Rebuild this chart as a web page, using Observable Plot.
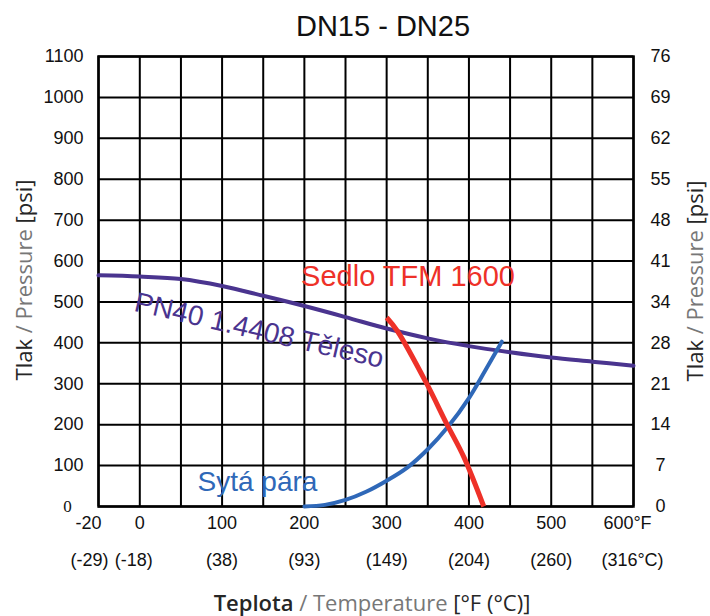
<!DOCTYPE html>
<html>
<head>
<meta charset="utf-8">
<script src="https://cdn.jsdelivr.net/npm/d3@7"></script>
<script src="https://cdn.jsdelivr.net/npm/@observablehq/plot@0.6"></script>
<style>
  html, body { margin: 0; padding: 0; background: #fff; }
  #chart svg { display: block; }
</style>
</head>
<body>
<div id="chart"></div>
<script>
// ---- data ----
const title = "DN15 - DN25";
const gridTemps = [-20, 0, 50, 100, 150, 200, 250, 300, 350, 400, 450, 500, 550, 600];
const tempTicks = [-20, 0, 100, 200, 300, 400, 500, 600];
const tempLabelsF = ["-20", "0", "100", "200", "300", "400", "500", "600°F"];
const tempLabelsC = ["(-29)", "(-18)", "(38)", "(93)", "(149)", "(204)", "(260)", "(316°C)"];
const psiTicks = [0, 100, 200, 300, 400, 500, 600, 700, 800, 900, 1000, 1100];
const barLabels = ["0", "7", "14", "21", "28", "34", "41", "48", "55", "62", "69", "76"];

// PN40 1.4408 body
const bodyTemp = [-20, 0, 50, 100, 150, 200, 250, 300, 350, 400, 450, 500, 550, 600];
const bodyPsi  = [565, 562, 556, 539, 515, 490, 463, 435, 411, 392, 377, 364, 354, 344];

// Seat TFM 1600
const seatTemp = [300, 313, 349, 373, 394, 418];
const seatPsi  = [462, 429, 299, 202, 120, 0];

// Saturated steam
const steamTemp = [200, 225, 250, 275, 300, 325, 350, 375, 400, 420, 440];
const steamPsi  = [0, 4, 16, 36, 63, 95, 140, 196, 265, 333, 403];

// curve labels (data coordinates)
const curveLabels = [
  {text: "Sedlo TFM 1600", t: 326, p: 561, series: "seat"},
  {text: "Sytá pára", t: 143, p: 59, series: "steam"},
  {text: "PN40 1.4408 Těleso", t: 145, p: 430, series: "body"}
];

const colors = {body: "#4a348f", seat: "#ee3128", steam: "#2f68b8"};

const body = bodyTemp.map((t, i) => ({t, p: bodyPsi[i]}));
const seat = seatTemp.map((t, i) => ({t, p: seatPsi[i]}));
const steam = steamTemp.map((t, i) => ({t, p: steamPsi[i]}));

const tickFont = "'Liberation Sans', Arial, sans-serif";
const fRows = tempTicks.map((t, i) => ({t, s: tempLabelsF[i]}));
const cRows = tempTicks.map((t, i) => ({t, s: tempLabelsC[i]}));
const tick = {fontSize: 18, fill: "#111", lineAnchor: "middle"};

const chart = Plot.plot({
  width: 710,
  height: 616,
  marginLeft: 98,
  marginRight: 77,
  marginTop: 56,
  marginBottom: 110,
  style: {fontFamily: tickFont, background: "#fff"},
  x: {type: "linear", domain: [-20, 0, 600], range: [98, 139.3, 633], axis: null},
  y: {domain: [0, 1100], axis: null},
  marks: [
    Plot.ruleX(gridTemps, {x: d => d, stroke: "#000", strokeWidth: 2}),
    Plot.ruleY(psiTicks, {y: d => d, stroke: "#000", strokeWidth: 2}),
    Plot.frame({stroke: "#000", strokeWidth: 2.5}),
    Plot.line(body, {x: "t", y: "p", stroke: colors.body, strokeWidth: 4, curve: "catmull-rom"}),
    Plot.line(steam, {x: "t", y: "p", stroke: colors.steam, strokeWidth: 4, curve: "catmull-rom"}),
    Plot.line(seat, {x: "t", y: "p", stroke: colors.seat, strokeWidth: 5, curve: "catmull-rom", strokeLinecap: "butt"}),
    // curve labels
    Plot.text(curveLabels.filter(d => d.series === "seat"), {x: "t", y: "p", text: "text", fill: colors.seat, fontSize: 29}),
    Plot.text(curveLabels.filter(d => d.series === "steam"), {x: "t", y: "p", text: "text", fill: colors.steam, fontSize: 28}),
    Plot.text(curveLabels.filter(d => d.series === "body"), {x: "t", y: "p", text: "text", fill: colors.body, fontSize: 28, rotate: 13}),
    // left tick labels
    Plot.text(psiTicks.filter(d => d > 0), {y: d => d, text: d => String(d), frameAnchor: "left", textAnchor: "end", dx: -15, ...tick}),
    Plot.text(psiTicks.filter(d => d === 0), {y: d => d, text: d => String(d), frameAnchor: "left", textAnchor: "middle", dx: -31, fontSize: 17, fontFamily: "'Liberation Serif', serif", fill: "#111", lineAnchor: "middle"}),
    // right tick labels (bar)
    Plot.text(psiTicks, {y: d => d, text: (d, i) => barLabels[i], frameAnchor: "right", textAnchor: "middle", dx: 27, ...tick}),
    // bottom °F labels
    Plot.text(fRows.filter(d => d.t > -20 && d.t < 600), {x: "t", text: "s", frameAnchor: "bottom", dy: 17, ...tick}),
    Plot.text(fRows.filter(d => d.t === -20), {x: "t", text: "s", frameAnchor: "bottom", dy: 17, dx: -10, ...tick}),
    Plot.text(fRows.filter(d => d.t === 600), {x: "t", text: "s", frameAnchor: "bottom", dy: 17, dx: -6, ...tick}),
    // bottom °C labels
    Plot.text(cRows.filter(d => d.t > 0 && d.t < 600), {x: "t", text: "s", frameAnchor: "bottom", dy: 54, ...tick}),
    Plot.text(cRows.filter(d => d.t === -20), {x: "t", text: "s", frameAnchor: "bottom", dy: 54, dx: -9, ...tick}),
    Plot.text(cRows.filter(d => d.t === 0), {x: "t", text: "s", frameAnchor: "bottom", dy: 54, dx: -6, ...tick}),
    Plot.text(cRows.filter(d => d.t === 600), {x: "t", text: "s", frameAnchor: "bottom", dy: 54, dx: -1, ...tick}),
    // title
    Plot.text([title], {text: d => d, frameAnchor: "top", dy: -30, dx: 17, fontSize: 29, fill: "#111", lineAnchor: "middle"})
  ]
});

document.getElementById("chart").appendChild(chart);

// multi-colour axis titles
const svg = d3.select(chart);
const titleFont = "'Open Sans', 'Noto Sans', sans-serif";
function addTitle(x, y, rotate, parts) {
  const t = svg.append("text")
    .attr("transform", `translate(${x},${y})` + (rotate ? ` rotate(${rotate})` : ""))
    .attr("text-anchor", "middle")
    .attr("font-family", titleFont)
    .attr("font-size", 22);
  parts.forEach(([s, fill, weight]) => {
    t.append("tspan").attr("fill", fill).attr("font-weight", weight || 400).text(s);
  });
}
const dark = "#262626", grey = "#777777";
addTitle(372, 611, 0, [["Teplota", dark, 600], [" / Temperature ", grey], ["[°F (°C)]", dark]]);
addTitle(32, 280, -90, [["Tlak", dark], [" / Pressure ", grey], ["[psi]", dark]]);
addTitle(703, 281, -90, [["Tlak", dark], [" / Pressure ", grey], ["[psi]", dark]]);
</script>
</body>
</html>
